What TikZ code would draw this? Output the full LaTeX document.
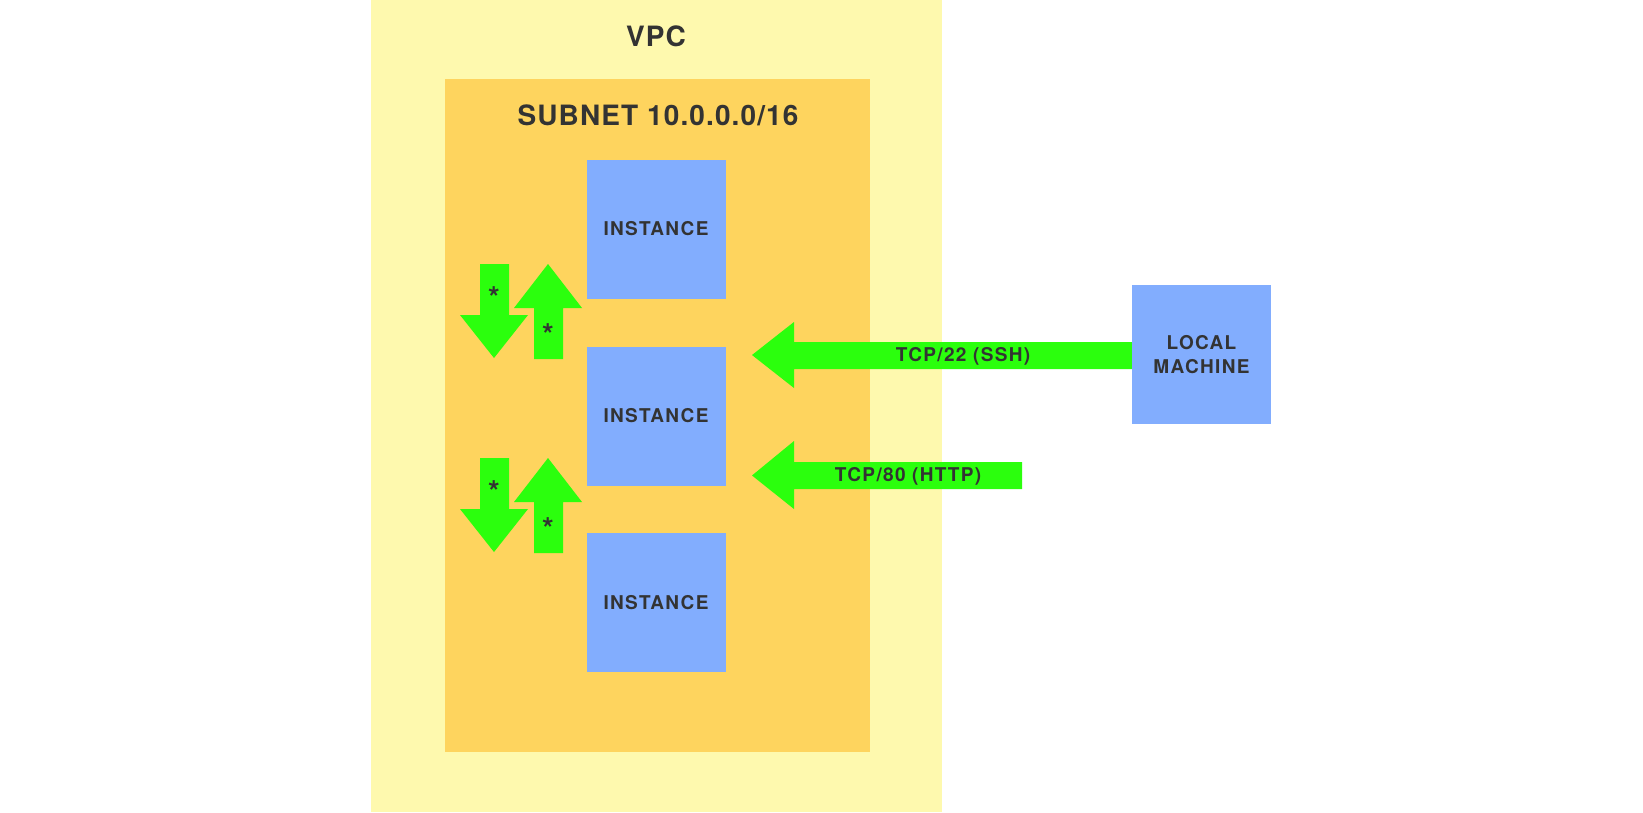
\documentclass[tikz,border=0pt]{standalone}
\usepackage{fontspec}
\setmainfont{TeX Gyre Heros}
\newfontfamily\lab{TeX Gyre Heros}[LetterSpace=7]
\newfontfamily\ttl{TeX Gyre Heros}[LetterSpace=4]
\definecolor{vpcfill}{HTML}{FEF9AE}
\definecolor{subfill}{HTML}{FED45E}
\definecolor{instfill}{HTML}{82ADFE}
\definecolor{arrfill}{HTML}{2BFF0D}
\definecolor{txt}{HTML}{333333}
\begin{document}
\begin{tikzpicture}[x=1pt,y=-1pt,
  box/.style={fill=instfill,draw=none,minimum width=139pt,minimum height=139pt,inner sep=0pt,
    font=\lab\bfseries\fontsize{19}{24}\selectfont,text=txt,align=center},
  region/.style={draw=none,inner sep=0pt},
  title/.style={font=\ttl\bfseries\fontsize{28}{32}\selectfont,text=txt,inner sep=0pt},
  lbl/.style={font=\lab\bfseries\fontsize{19}{24}\selectfont,text=txt,inner sep=0pt},
  star/.style={font=\bfseries\fontsize{30}{30}\selectfont,text=txt,inner sep=0pt},
  garrow/.style={fill=arrfill,draw=none}]
\useasboundingbox (0,0) rectangle (1643,812);
\fill[white] (0,0) rectangle (1643,812);
% VPC and subnet
\fill[vpcfill] (371,0) rectangle (942,812);
\node[region] (vpc) at (656.5,406) {};
\node[title] (vpclabel) at (656,36) {VPC};
\fill[subfill] (445,79) rectangle (870,752);
\node[region] (subnet) at (657.5,415.5) {};
\node[title] (sublabel) at (658,115) {SUBNET 10.0.0.0/16};
% instances
\node[box] (i1) at (656,229) {INSTANCE};
\node[box] (i2) at (656,416) {INSTANCE};
\node[box] (i3) at (656,602.5) {INSTANCE};
\node[box] (local) at (1201.5,354.5) {LOCAL\\MACHINE};
% SSH arrow
\coordinate (sshtip) at (752,355);
\fill[garrow] (local.west |- 0,342) -- (794,342) -- (794,322) -- (sshtip) -- (794,388) -- (794,369) -- (local.west |- 0,369) -- cycle;
\node[lbl] (ssh) at (963,356) {TCP/22 (SSH)};
% HTTP arrow
\coordinate (httptip) at (752,475.5);
\coordinate (httpend) at (1022,475.5);
\fill[garrow] (httpend |- 0,462) -- (794,462) -- (794,441) -- (httptip) -- (794,509) -- (794,489) -- (httpend |- 0,489) -- cycle;
\node[lbl] (http) at (908,476) {TCP/80 (HTTP)};
% small arrows pair 1
\fill[garrow] (480,264) -- (509,264) -- (509,315) -- (528,315) -- (494,358) -- (460,315) -- (480,315) -- cycle;
\fill[garrow] (548,264) -- (582,308) -- (563,308) -- (563,359) -- (534,359) -- (534,308) -- (514,308) -- cycle;
\node[star] (s1) at (494,298) {*};
\node[star] (s2) at (548,335) {*};
% small arrows pair 2
\fill[garrow] (480,458) -- (509,458) -- (509,509) -- (528,509) -- (494,552) -- (460,509) -- (480,509) -- cycle;
\fill[garrow] (548,458) -- (582,502) -- (563,502) -- (563,553) -- (534,553) -- (534,502) -- (514,502) -- cycle;
\node[star] (s3) at (494,492) {*};
\node[star] (s4) at (548,529) {*};
\end{tikzpicture}
\end{document}
